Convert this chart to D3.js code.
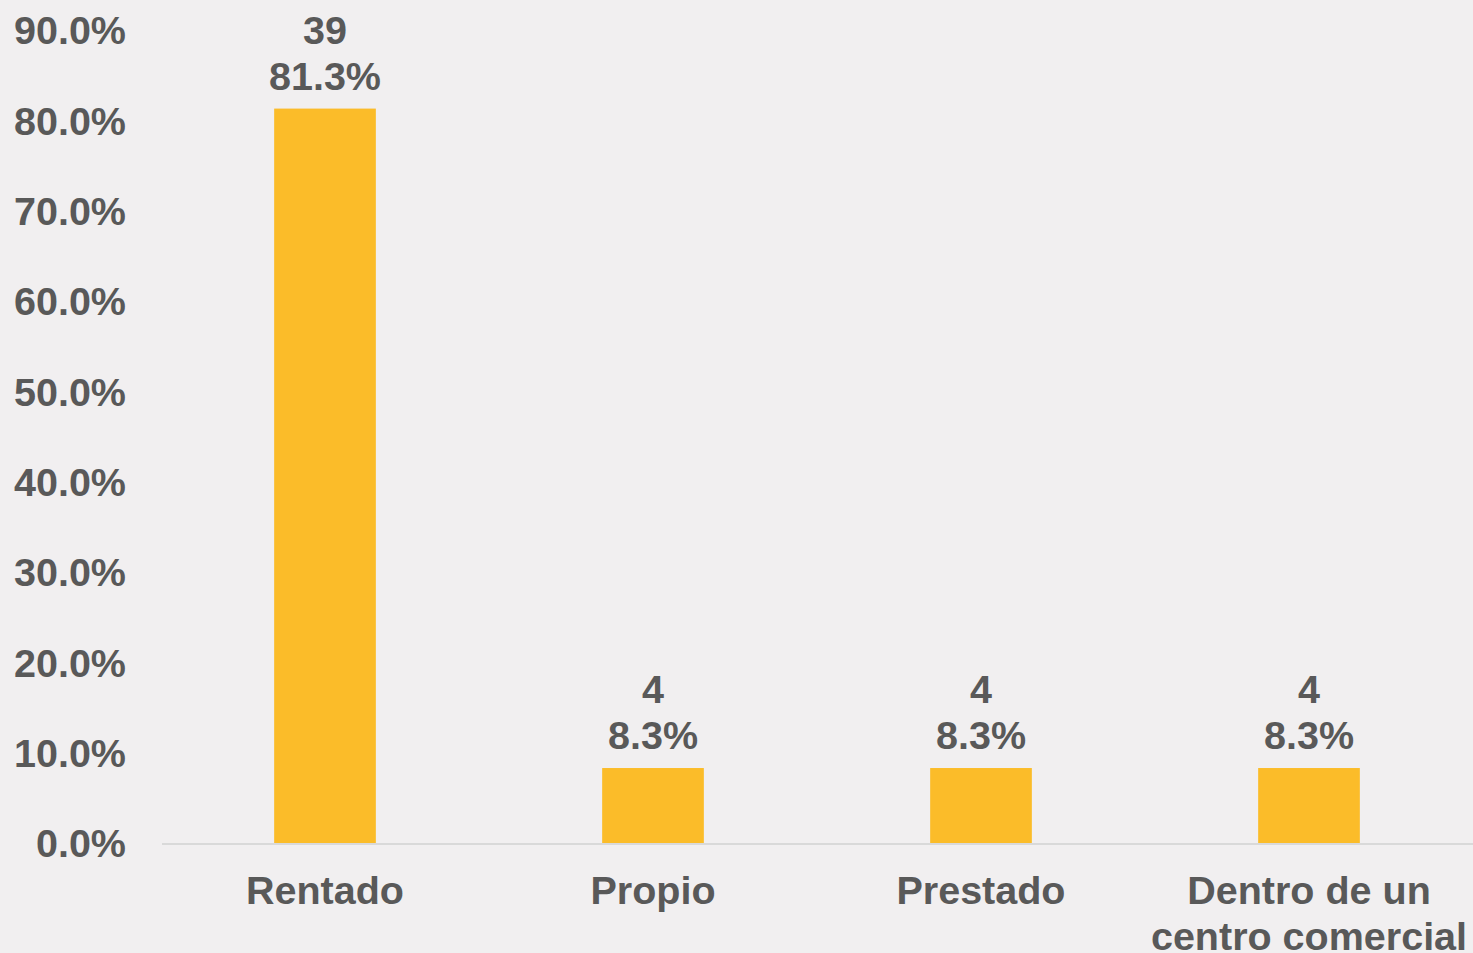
<!DOCTYPE html>
<html>
<head>
<meta charset="utf-8">
<script src="https://cdn.jsdelivr.net/npm/d3@7"></script>
<style>
  html, body { margin: 0; padding: 0; background: #f1eff0; }
  svg { display: block; }
  text { font-family: "Liberation Sans", Arial, sans-serif; font-weight: bold; fill: #595959; }
</style>
</head>
<body>
<svg id="chart" width="1473" height="953"></svg>
<script>
// data
var categories = ["Rentado", "Propio", "Prestado", "Dentro de un\ncentro comercial"];
var counts = [39, 4, 4, 4];
var percents = [81.3, 8.3, 8.3, 8.3];
var yTicks = [0, 10, 20, 30, 40, 50, 60, 70, 80, 90];

var svg = d3.select("#chart"),
    width = +svg.attr("width"),
    height = +svg.attr("height");

// note: "top" is taken by window.top, so use plotTop
var plotLeft = 161, plotRight = 1473, plotBase = 843, plotTop = 30;

var x = d3.scaleBand()
    .domain(categories)
    .range([plotLeft, plotRight])
    .paddingInner(0.69)
    .paddingOuter(0.345);

var y = d3.scaleLinear()
    .domain([0, 90])
    .range([plotBase, plotTop]);

var fs = 39.5;

// y tick labels
svg.append("g")
  .selectAll("text")
  .data(yTicks)
  .enter().append("text")
    .attr("x", 126)
    .attr("y", function(d) { return y(d); })
    .attr("dy", "0.36em")
    .attr("text-anchor", "end")
    .style("font-size", fs + "px")
    .text(function(d) { return d.toFixed(1) + "%"; });

// bars
svg.append("g")
  .selectAll("rect")
  .data(categories)
  .enter().append("rect")
    .attr("x", function(d) { return x(d); })
    .attr("width", x.bandwidth())
    .attr("y", function(d, i) { return y(percents[i]); })
    .attr("height", function(d, i) { return plotBase - y(percents[i]); })
    .attr("fill", "#fbbc29");

// baseline
svg.append("line")
  .attr("x1", 162).attr("x2", width)
  .attr("y1", plotBase + 1).attr("y2", plotBase + 1)
  .attr("stroke", "#d9d9d9")
  .attr("stroke-width", 2);

// data labels: count over percent
var lab = svg.append("g")
  .selectAll("text")
  .data(categories)
  .enter().append("text")
    .attr("text-anchor", "middle")
    .style("font-size", fs + "px");

lab.append("tspan")
  .attr("x", function(d) { return x(d) + x.bandwidth() / 2; })
  .attr("y", function(d, i) { return y(percents[i]) - 65; })
  .text(function(d, i) { return counts[i]; });

lab.append("tspan")
  .attr("x", function(d) { return x(d) + x.bandwidth() / 2; })
  .attr("y", function(d, i) { return y(percents[i]) - 19; })
  .text(function(d, i) { return percents[i].toFixed(1) + "%"; });

// category labels
var cat = svg.append("g")
  .selectAll("text")
  .data(categories)
  .enter().append("text")
    .attr("text-anchor", "middle")
    .style("font-size", fs + "px");

cat.selectAll("tspan")
  .data(function(d) { return d.split("\n").map(function(s) { return { cat: d, s: s }; }); })
  .enter().append("tspan")
    .attr("x", function(d) { return x(d.cat) + x.bandwidth() / 2; })
    .attr("y", function(d, j) { return 904 + j * 46; })
    .text(function(d) { return d.s; });
</script>
</body>
</html>
